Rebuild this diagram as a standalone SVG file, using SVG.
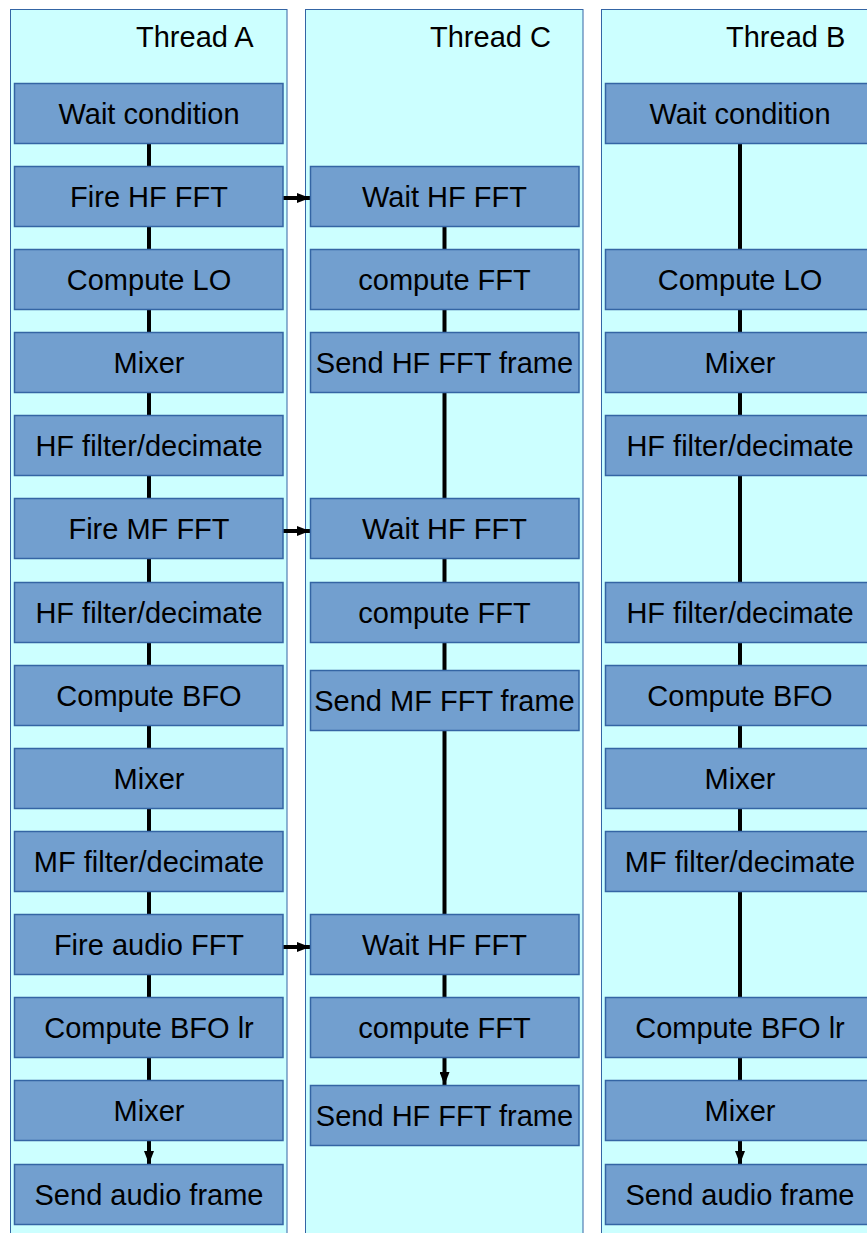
<svg xmlns="http://www.w3.org/2000/svg" width="867" height="1233" viewBox="0 0 867 1233">
<defs>
<style>
.lane{fill:#ccffff;stroke:#3465a4;stroke-width:1}
.box{fill:#729fcf;stroke:#3465a4;stroke-width:1.5}
.t{font-family:"Liberation Sans",Arial,sans-serif;font-size:29px;fill:#000;text-anchor:middle}
.h{font-family:"Liberation Sans",Arial,sans-serif;font-size:29px;fill:#000}
.c{stroke:#000;stroke-width:4;fill:none}
</style>
<marker id="ah" markerWidth="13" markerHeight="10" viewBox="0 0 13 10" refX="13" refY="5" orient="auto" markerUnits="userSpaceOnUse">
<path d="M0,0 L13,5 L0,10 Z" fill="#000"/>
</marker>
</defs>
<rect width="867" height="1233" fill="#fff"/>
<g id="laneA"><rect class="lane" x="10.5" y="9.5" width="276.5" height="1240"/><text class="h" x="136" y="47">Thread A</text></g>
<g id="laneC"><rect class="lane" x="305.5" y="9.5" width="277.5" height="1240"/><text class="h" x="430" y="47">Thread C</text></g>
<g id="laneB"><rect class="lane" x="601.5" y="9.5" width="280" height="1240"/><text class="h" x="726" y="47">Thread B</text></g>
<g id="connectors">
<line class="c" x1="149" y1="143" x2="149" y2="1164" marker-end="url(#ah)"/>
<line class="c" x1="444.5" y1="226" x2="444.5" y2="1085" marker-end="url(#ah)"/>
<line class="c" x1="740" y1="143" x2="740" y2="1164" marker-end="url(#ah)"/>
<line class="c" x1="283" y1="198" x2="310" y2="198" marker-end="url(#ah)"/>
<line class="c" x1="283" y1="531" x2="310" y2="531" marker-end="url(#ah)"/>
<line class="c" x1="283" y1="947" x2="310" y2="947" marker-end="url(#ah)"/>
</g>
<g id="a1"><rect class="box" x="14.5" y="83.5" width="268.5" height="60"/><text class="t" x="149" y="124">Wait condition</text></g>
<g id="a2"><rect class="box" x="14.5" y="166.5" width="268.5" height="60"/><text class="t" x="149" y="207">Fire HF FFT</text></g>
<g id="a3"><rect class="box" x="14.5" y="249.5" width="268.5" height="60"/><text class="t" x="149" y="290">Compute LO</text></g>
<g id="a4"><rect class="box" x="14.5" y="332.5" width="268.5" height="60"/><text class="t" x="149" y="373">Mixer</text></g>
<g id="a5"><rect class="box" x="14.5" y="415.5" width="268.5" height="60"/><text class="t" x="149" y="456">HF filter/decimate</text></g>
<g id="a6"><rect class="box" x="14.5" y="498.5" width="268.5" height="60"/><text class="t" x="149" y="539">Fire MF FFT</text></g>
<g id="a7"><rect class="box" x="14.5" y="582.5" width="268.5" height="60"/><text class="t" x="149" y="623">HF filter/decimate</text></g>
<g id="a8"><rect class="box" x="14.5" y="665.5" width="268.5" height="60"/><text class="t" x="149" y="706">Compute BFO</text></g>
<g id="a9"><rect class="box" x="14.5" y="748.5" width="268.5" height="60"/><text class="t" x="149" y="789">Mixer</text></g>
<g id="a10"><rect class="box" x="14.5" y="831.5" width="268.5" height="60"/><text class="t" x="149" y="872">MF filter/decimate</text></g>
<g id="a11"><rect class="box" x="14.5" y="914.5" width="268.5" height="60"/><text class="t" x="149" y="955">Fire audio FFT</text></g>
<g id="a12"><rect class="box" x="14.5" y="997.5" width="268.5" height="60"/><text class="t" x="149" y="1038">Compute BFO lr</text></g>
<g id="a13"><rect class="box" x="14.5" y="1080.5" width="268.5" height="60"/><text class="t" x="149" y="1121">Mixer</text></g>
<g id="a14"><rect class="box" x="14.5" y="1164.5" width="268.5" height="60"/><text class="t" x="149" y="1205">Send audio frame</text></g>
<g id="c1"><rect class="box" x="310.5" y="166.5" width="268.5" height="60"/><text class="t" x="444.5" y="207">Wait HF FFT</text></g>
<g id="c2"><rect class="box" x="310.5" y="249.5" width="268.5" height="60"/><text class="t" x="444.5" y="290">compute FFT</text></g>
<g id="c3"><rect class="box" x="310.5" y="332.5" width="268.5" height="60"/><text class="t" x="444.5" y="373">Send HF FFT frame</text></g>
<g id="c4"><rect class="box" x="310.5" y="498.5" width="268.5" height="60"/><text class="t" x="444.5" y="539">Wait HF FFT</text></g>
<g id="c5"><rect class="box" x="310.5" y="582.5" width="268.5" height="60"/><text class="t" x="444.5" y="623">compute FFT</text></g>
<g id="c6"><rect class="box" x="310.5" y="670.5" width="268.5" height="60"/><text class="t" x="444.5" y="711">Send MF FFT frame</text></g>
<g id="c7"><rect class="box" x="310.5" y="914.5" width="268.5" height="60"/><text class="t" x="444.5" y="955">Wait HF FFT</text></g>
<g id="c8"><rect class="box" x="310.5" y="997.5" width="268.5" height="60"/><text class="t" x="444.5" y="1038">compute FFT</text></g>
<g id="c9"><rect class="box" x="310.5" y="1085.5" width="268.5" height="60"/><text class="t" x="444.5" y="1126">Send HF FFT frame</text></g>
<g id="b1"><rect class="box" x="605.5" y="83.5" width="268.5" height="60"/><text class="t" x="740" y="124">Wait condition</text></g>
<g id="b2"><rect class="box" x="605.5" y="249.5" width="268.5" height="60"/><text class="t" x="740" y="290">Compute LO</text></g>
<g id="b3"><rect class="box" x="605.5" y="332.5" width="268.5" height="60"/><text class="t" x="740" y="373">Mixer</text></g>
<g id="b4"><rect class="box" x="605.5" y="415.5" width="268.5" height="60"/><text class="t" x="740" y="456">HF filter/decimate</text></g>
<g id="b5"><rect class="box" x="605.5" y="582.5" width="268.5" height="60"/><text class="t" x="740" y="623">HF filter/decimate</text></g>
<g id="b6"><rect class="box" x="605.5" y="665.5" width="268.5" height="60"/><text class="t" x="740" y="706">Compute BFO</text></g>
<g id="b7"><rect class="box" x="605.5" y="748.5" width="268.5" height="60"/><text class="t" x="740" y="789">Mixer</text></g>
<g id="b8"><rect class="box" x="605.5" y="831.5" width="268.5" height="60"/><text class="t" x="740" y="872">MF filter/decimate</text></g>
<g id="b9"><rect class="box" x="605.5" y="997.5" width="268.5" height="60"/><text class="t" x="740" y="1038">Compute BFO lr</text></g>
<g id="b10"><rect class="box" x="605.5" y="1080.5" width="268.5" height="60"/><text class="t" x="740" y="1121">Mixer</text></g>
<g id="b11"><rect class="box" x="605.5" y="1164.5" width="268.5" height="60"/><text class="t" x="740" y="1205">Send audio frame</text></g>
</svg>
